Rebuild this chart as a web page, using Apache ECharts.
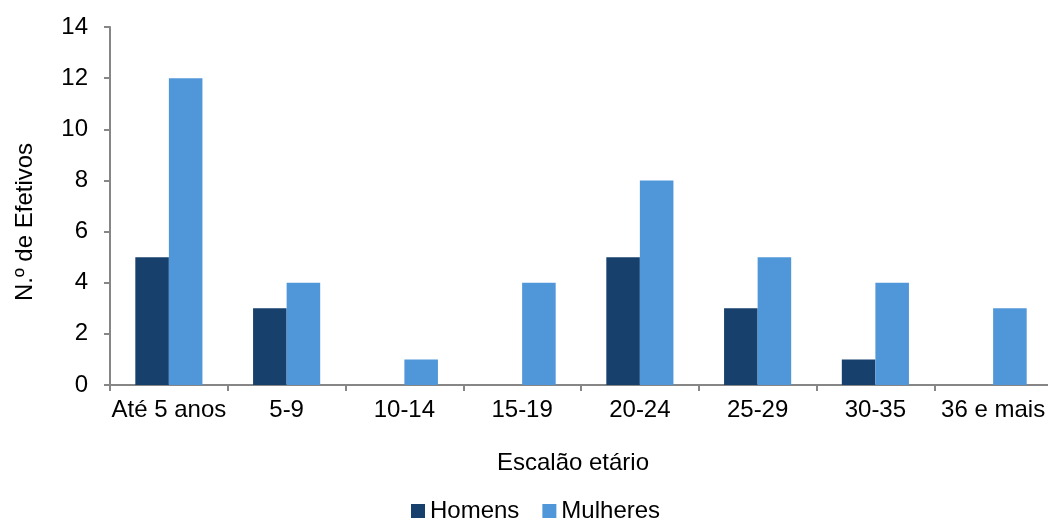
<!DOCTYPE html>
<html><head><meta charset="utf-8">
<script src="https://cdn.jsdelivr.net/npm/echarts@6/dist/echarts.min.js"></script>
<style>html,body{margin:0;padding:0;background:#fff}#c{width:1048px;height:521px}</style>
</head><body><div id="c"></div>
<script>
const categories = ['Até 5 anos','5-9','10-14','15-19','20-24','25-29','30-35','36 e mais'];
const homens = [5,3,0,0,5,3,1,0];
const mulheres = [12,4,1,4,8,5,4,3];
const yTicks = {min:0,max:14,interval:2};
const font = 'Liberation Sans, Arial, sans-serif';
const fs = 24;
const chart = echarts.init(document.getElementById('c'));
chart.setOption({
  animation:false,
  textStyle:{fontFamily:font},
  grid:{left:110,top:27,width:942,height:358,containLabel:false,outerBoundsMode:'none'},
  legend:{top:494,left:406,itemWidth:14,itemHeight:14,itemGap:23,icon:'rect',
    textStyle:{fontFamily:font,fontSize:fs,color:'#000'},data:['Homens','Mulheres']},
  xAxis:{type:'category',data:categories,name:'Escalão etário',nameLocation:'middle',nameGap:66,
    nameTextStyle:{fontFamily:font,fontSize:fs,color:'#000',padding:[0,16,0,0]},
    axisLine:{lineStyle:{color:'#868686',width:2}},
    axisTick:{show:true,length:6,interval:0,lineStyle:{color:'#868686',width:2}},
    axisLabel:{fontFamily:font,fontSize:fs,color:'#000',margin:13,interval:0,hideOverlap:false}},
  yAxis:{type:'value',min:yTicks.min,max:yTicks.max,interval:yTicks.interval,name:'N.º de Efetivos',
    nameLocation:'middle',nameGap:73,nameRotate:90,
    nameTextStyle:{fontFamily:font,fontSize:fs,color:'#000',padding:[0,32,0,0]},
    axisLine:{show:true,lineStyle:{color:'#868686',width:2}},
    axisTick:{show:true,length:6,lineStyle:{color:'#868686',width:2}},
    splitLine:{show:false},
    axisLabel:{fontFamily:font,fontSize:fs,color:'#000',margin:22}},
  series:[
    {name:'Homens',type:'bar',data:homens,barGap:'0%',barCategoryGap:'43%',itemStyle:{color:'#17406D'}},
    {name:'Mulheres',type:'bar',data:mulheres,barGap:'0%',barCategoryGap:'43%',itemStyle:{color:'#5097D9'}}
  ]
});
</script></body></html>
